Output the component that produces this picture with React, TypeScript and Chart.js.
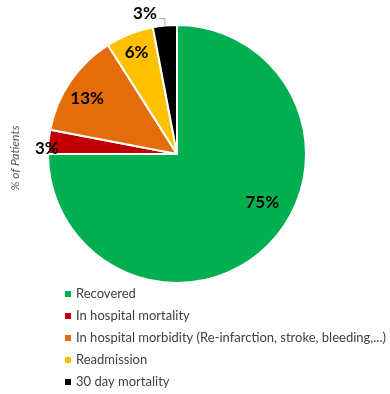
import React, { useEffect, useRef } from "react";
import { Chart, registerables } from "chart.js";

Chart.register(...registerables);

const categories = [
  "Recovered",
  "In hospital mortality",
  "In hospital morbidity (Re-infarction, stroke, bleeding,...)",
  "Readmission",
  "30 day mortality",
];
const values = [75, 3, 13, 6, 3];
const valueLabels = ["75%", "3%", "13%", "6%", "3%"];
const colors = ["#00B050", "#C00000", "#E46C0A", "#FFC000", "#000000"];
const axisTitle = "% of Patients";

// label placement relative to slice: radius fraction and angle tweak (deg)
const labelRadius = [0.76, 1.01, 0.82, 0.85, 1.12];
const labelAngleDelta = [-15.5, -2.8, -2.3, 0, -7.4];

const labelPlugin = {
  id: "customLabels",
  afterDatasetsDraw(chart: any) {
    const ctx = chart.ctx;
    const meta = chart.getDatasetMeta(0);
    ctx.save();
    ctx.font = "bold 17px Lato";
    ctx.fillStyle = "#000";
    ctx.textAlign = "center";
    ctx.textBaseline = "middle";
    meta.data.forEach((arc: any, i: number) => {
      const { x, y, startAngle, endAngle, outerRadius } = arc.getProps(
        ["x", "y", "startAngle", "endAngle", "outerRadius"],
        true
      );
      const mid = (startAngle + endAngle) / 2 + (labelAngleDelta[i] * Math.PI) / 180;
      const r = outerRadius * labelRadius[i];
      const lx = x + Math.cos(mid) * r;
      const ly = y + Math.sin(mid) * r;
      ctx.fillText(valueLabels[i], lx, ly);
      if (i === 4) {
        const ex = x + Math.cos((startAngle + endAngle) / 2) * outerRadius;
        const ey = y + Math.sin((startAngle + endAngle) / 2) * outerRadius;
        ctx.strokeStyle = "#A6A6A6";
        ctx.lineWidth = 1;
        ctx.beginPath();
        ctx.moveTo(lx + 14, ly + 5.5);
        ctx.lineTo(ex, ly + 5.5);
        ctx.lineTo(ex, ey);
        ctx.stroke();
      }
    });
    ctx.restore();
  },
  afterDraw(chart: any) {
    const ctx = chart.ctx;
    ctx.save();
    ctx.translate(15, 158);
    ctx.rotate(-Math.PI / 2);
    ctx.font = "italic 12px Lato";
    ctx.fillStyle = "#595959";
    ctx.textAlign = "center";
    ctx.textBaseline = "middle";
    ctx.fillText(axisTitle, 0, 0);
    ctx.restore();
    ctx.save();
    ctx.font = "13px Lato";
    ctx.textBaseline = "middle";
    ctx.textAlign = "left";
    const labels = chart.data.labels as string[];
    const bg = chart.data.datasets[0].backgroundColor as string[];
    labels.forEach((lab, i) => {
      const cy = 294 + i * 22;
      ctx.fillStyle = bg[i];
      ctx.fillRect(65, cy - 3, 6, 6);
      ctx.fillStyle = "#404040";
      ctx.fillText(lab, 76, cy);
    });
    ctx.restore();
  },
};

export default function App() {
  const ref = useRef<HTMLCanvasElement>(null);
  useEffect(() => {
    if (!ref.current) return;
    const chart = new Chart(ref.current, {
      type: "pie",
      data: {
        labels: categories,
        datasets: [
          {
            data: values,
            backgroundColor: colors,
            borderColor: "#FFFFFF",
            borderWidth: 2,
            hoverOffset: 0,
          },
        ],
      },
      options: {
        responsive: false,
        animation: false,
        layout: { padding: { left: 47, right: 83, top: 24, bottom: 110 } },
        plugins: {
          legend: { display: false },
          tooltip: { enabled: false },
        },
      },
      plugins: [labelPlugin],
    });
    return () => chart.destroy();
  }, []);
  return (
    <div style={{ position: "absolute", left: 0, top: 0, width: 390, height: 394, background: "#fff" }}>
      <canvas ref={ref} width={390} height={394} />
    </div>
  );
}
